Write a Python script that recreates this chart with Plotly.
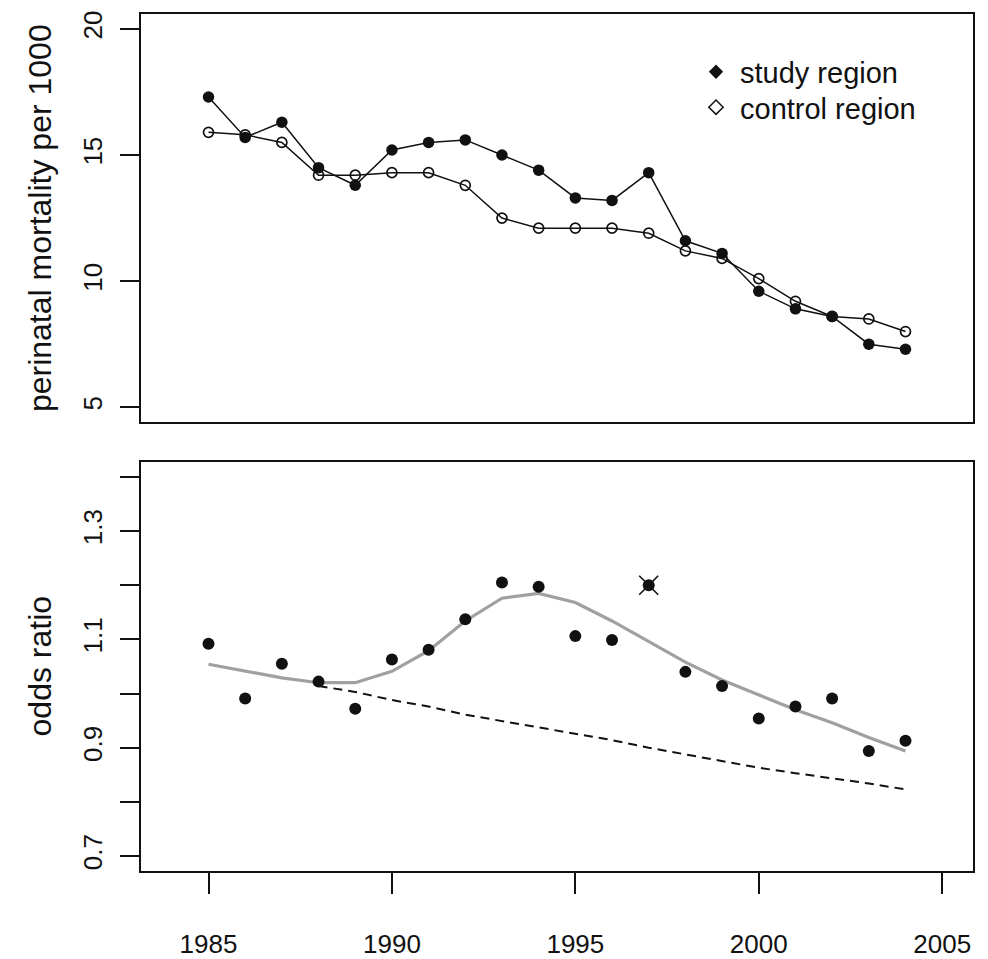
import plotly.graph_objects as go

# Annual perinatal mortality (per 1000 births), 1985-2004
years = list(range(1985, 2005))
study_region = [17.3, 15.7, 16.3, 14.5, 13.8, 15.2, 15.5, 15.6, 15.0, 14.4,
                13.3, 13.2, 14.3, 11.6, 11.1, 9.6, 8.9, 8.6, 7.5, 7.3]
control_region = [15.9, 15.8, 15.5, 14.2, 14.2, 14.3, 14.3, 13.8, 12.5, 12.1,
                  12.1, 12.1, 11.9, 11.2, 10.9, 10.1, 9.2, 8.6, 8.5, 8.0]

# Odds ratio study vs control, its smoothed curve and the extrapolated trend
odds_ratio = [1.092, 0.991, 1.055, 1.022, 0.972, 1.063, 1.081, 1.137, 1.205, 1.197,
              1.106, 1.099, 1.200, 1.040, 1.014, 0.954, 0.976, 0.991, 0.894, 0.913]
smoothed = [1.054, 1.041, 1.029, 1.020, 1.020, 1.041, 1.079, 1.134, 1.176, 1.185,
            1.168, 1.134, 1.096, 1.058, 1.025, 0.997, 0.970, 0.946, 0.919, 0.894]
trend_years = list(range(1988, 2005))
trend = [1.014, 1.003, 0.988, 0.976, 0.961, 0.949, 0.937, 0.925, 0.914,
         0.900, 0.888, 0.876, 0.863, 0.853, 0.844, 0.834, 0.823]
flagged_years = [1997]

x_ticks = [1985, 1990, 1995, 2000, 2005]
top_y_ticks = [5, 10, 15, 20]
bottom_y_ticks = [0.7, 0.8, 0.9, 1.0, 1.1, 1.2, 1.3, 1.4]
bottom_y_labels = ["0.7", "", "0.9", "", "1.1", "", "1.3", ""]

W, H = 988, 959
FONT = "Liberation Sans, Arial, sans-serif"
INK = "#111111"

x_dom = [141 / W, 973 / W]
top_dom = [(H - 426) / H, (H - 11) / H]
bot_dom = [(H - 882) / H, (H - 466) / H]
x_range = [1983.16, 2005.84]

fig = go.Figure()

# --- upper panel: mortality series ---
fig.add_trace(go.Scatter(
    x=years, y=control_region, mode="lines+markers", showlegend=False,
    line=dict(color=INK, width=1.5),
    marker=dict(symbol="circle-open", size=10, color=INK, line=dict(width=1.7)),
    xaxis="x", yaxis="y"))
fig.add_trace(go.Scatter(
    x=years, y=study_region, mode="lines+markers", showlegend=False,
    line=dict(color=INK, width=1.5),
    marker=dict(symbol="circle", size=11.5, color=INK),
    xaxis="x", yaxis="y"))

# legend entries, one legend box per row
fig.add_trace(go.Scatter(
    x=[None], y=[None], mode="markers", name="study region", legend="legend",
    marker=dict(symbol="diamond", size=11, color=INK),
    xaxis="x", yaxis="y"))
fig.add_trace(go.Scatter(
    x=[None], y=[None], mode="markers", name="control region", legend="legend2",
    marker=dict(symbol="diamond-open", size=11, color=INK, line=dict(width=1.5)),
    xaxis="x", yaxis="y"))

# --- lower panel: odds ratio ---
fig.add_trace(go.Scatter(
    x=years, y=smoothed, mode="lines", showlegend=False,
    line=dict(color="#a0a0a0", width=3.2),
    xaxis="x2", yaxis="y2"))
fig.add_trace(go.Scatter(
    x=trend_years, y=trend, mode="lines", showlegend=False,
    line=dict(color=INK, width=2, dash="9px,6px"),
    xaxis="x2", yaxis="y2"))
fig.add_trace(go.Scatter(
    x=years, y=odds_ratio, mode="markers", showlegend=False,
    marker=dict(symbol="circle", size=12, color=INK),
    xaxis="x2", yaxis="y2"))
flag_idx = [years.index(yr) for yr in flagged_years]
fig.add_trace(go.Scatter(
    x=flagged_years, y=[odds_ratio[i] for i in flag_idx], mode="markers",
    showlegend=False,
    marker=dict(symbol="x-thin-open", size=19, color=INK,
                line=dict(width=1.6, color=INK)),
    xaxis="x2", yaxis="y2"))

axis_common = dict(
    showline=True, mirror=True, linecolor=INK, linewidth=2,
    showgrid=False, zeroline=False,
    tickfont=dict(family=FONT, size=26, color=INK),
)

legend_common = dict(
    xanchor="left", yanchor="middle",
    bgcolor="rgba(0,0,0,0)", borderwidth=0,
    font=dict(family=FONT, size=29, color=INK),
    itemclick=False, itemwidth=38,
)

fig.update_layout(
    width=W, height=H,
    margin=dict(l=0, r=0, t=0, b=0),
    paper_bgcolor="white", plot_bgcolor="white",
    font=dict(family=FONT, color=INK),
    xaxis=dict(domain=x_dom, range=x_range, anchor="y",
               ticks="", showticklabels=False, **axis_common),
    yaxis=dict(domain=top_dom, range=[4.4, 20.6], anchor="x",
               tickvals=top_y_ticks, ticks="outside", ticklen=19,
               tickwidth=2, tickcolor=INK, tickangle=-90,
               ticklabelstandoff=8, **axis_common),
    xaxis2=dict(domain=x_dom, range=x_range, anchor="y2",
                tickvals=x_ticks, ticks="outside", ticklen=21,
                tickwidth=2, tickcolor=INK, ticklabelstandoff=28,
                **axis_common),
    yaxis2=dict(domain=bot_dom, range=[0.672, 1.428], anchor="x2",
                tickvals=bottom_y_ticks, ticktext=bottom_y_labels,
                ticks="outside", ticklen=19, tickwidth=2, tickcolor=INK,
                tickangle=-90, ticklabelstandoff=8, **axis_common),
    legend=dict(x=692 / W, y=1 - 70 / H, **legend_common),
    legend2=dict(x=692 / W, y=1 - 106 / H, **legend_common),
    showlegend=True,
)

# axis titles
fig.add_annotation(
    text="perinatal mortality per 1000", textangle=-90,
    xref="paper", yref="paper", x=40 / W, y=(top_dom[0] + top_dom[1]) / 2,
    xanchor="center", yanchor="middle",
    showarrow=False, font=dict(family=FONT, size=32, color=INK))
fig.add_annotation(
    text="odds ratio", textangle=-90,
    xref="paper", yref="paper", x=40 / W, y=(bot_dom[0] + bot_dom[1]) / 2,
    xanchor="center", yanchor="middle",
    showarrow=False, font=dict(family=FONT, size=32, color=INK))

fig.write_html("out.html")
